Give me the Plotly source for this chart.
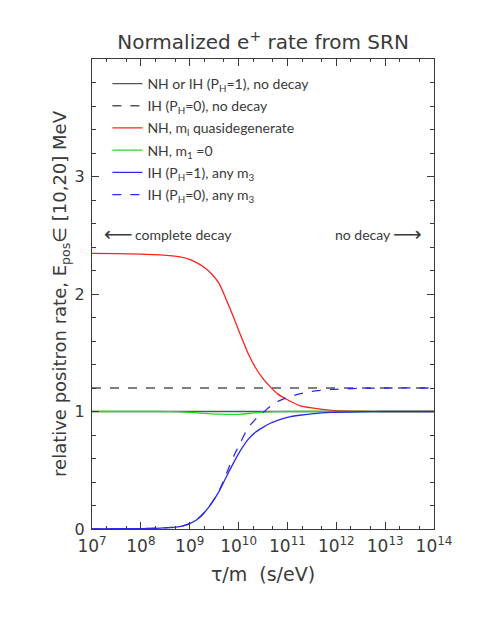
import plotly.graph_objects as go

# tau/m grid (s/eV) as log10 exponents
log_tau = [7.0, 7.5, 8.0, 8.4, 8.8, 9.0, 9.15, 9.3, 9.45, 9.6, 9.75, 9.9, 10.05,
           10.2, 10.35, 10.5, 10.65, 10.8, 11.0, 11.25, 11.5, 11.9, 12.5, 13.0, 14.0]
tau = [10 ** v for v in log_tau]

nh_quasideg = [2.345, 2.343, 2.34, 2.333, 2.316, 2.295, 2.265, 2.225, 2.17, 2.09,
               1.95, 1.80, 1.64, 1.49, 1.37, 1.28, 1.21, 1.15, 1.10, 1.05, 1.03,
               1.01, 1.003, 1.0, 1.0]
nh_m1zero = [1.0, 1.0, 1.0, 1.0, 0.997, 0.993, 0.989, 0.984, 0.98, 0.977, 0.976,
             0.976, 0.978, 0.983, 0.989, 0.994, 0.997, 0.999, 1.0, 1.0, 1.0, 1.0,
             1.0, 1.0, 1.0]
ih_ph1 = [0.0, 0.002, 0.004, 0.008, 0.02, 0.045, 0.08, 0.14, 0.22, 0.32, 0.445,
          0.565, 0.675, 0.765, 0.825, 0.865, 0.90, 0.925, 0.95, 0.968, 0.98, 0.992,
          0.998, 1.0, 1.0]
ih_ph0 = [0.0, 0.002, 0.004, 0.008, 0.02, 0.045, 0.08, 0.14, 0.222, 0.325, 0.47,
          0.62, 0.745, 0.865, 0.935, 0.99, 1.045, 1.085, 1.12, 1.15, 1.17, 1.188,
          1.197, 1.2, 1.2]

tau_const = [1e7, 1e14]
no_decay_ph1 = [1.0, 1.0]
no_decay_ph0 = [1.2, 1.2]

FONT = "DejaVu Sans"
FONT_N = "Lato"
INK = "#3a3a3a"

fig = go.Figure()
fig.add_trace(go.Scatter(x=tau_const, y=no_decay_ph1, mode="lines", legendgroup="a",
                         line=dict(color="#555555", width=1.3),
                         name="NH or IH (P<sub>H</sub>=1), no decay"))
fig.add_trace(go.Scatter(x=tau_const, y=no_decay_ph0, mode="lines", legendgroup="b",
                         line=dict(color="#555555", width=1.3, dash="dash"),
                         name="IH (P<sub>H</sub>=0), no decay"))
fig.add_trace(go.Scatter(x=tau, y=nh_quasideg, mode="lines",
                         line_shape="spline", line_smoothing=0.6,
                         legendgroup="c", line=dict(color="#ff2020", width=1.3),
                         name="NH, m<sub>l</sub> quasidegenerate"))
fig.add_trace(go.Scatter(x=tau, y=nh_m1zero, mode="lines",
                         line_shape="spline", line_smoothing=0.6,
                         legendgroup="d", line=dict(color="#22dd22", width=1.3),
                         name="NH, m<sub>1</sub> =0"))
fig.add_trace(go.Scatter(x=tau, y=ih_ph1, mode="lines",
                         line_shape="spline", line_smoothing=0.6,
                         legendgroup="e", line=dict(color="#2a2aee", width=1.3),
                         name="IH (P<sub>H</sub>=1), any m<sub>3</sub>"))
fig.add_trace(go.Scatter(x=tau, y=ih_ph0, mode="lines",
                         line_shape="spline", line_smoothing=0.6,
                         legendgroup="f", line=dict(color="#2a2aee", width=1.3, dash="dash"),
                         name="IH (P<sub>H</sub>=0), any m<sub>3</sub>"))

note_font = dict(size=14, color=INK, family=FONT_N)
arrow_font = dict(size=20, color=INK, family=FONT)
fig.add_annotation(x=0.03, y=2.51, xref="paper", yref="y", xanchor="left",
                   text="\u27f5", showarrow=False, font=arrow_font)
fig.add_annotation(x=0.12, y=2.51, xref="paper", yref="y", xanchor="left",
                   text="complete decay", showarrow=False, font=note_font)
fig.add_annotation(x=0.88, y=2.51, xref="paper", yref="y", xanchor="right",
                   text="no decay", showarrow=False, font=note_font)
fig.add_annotation(x=0.97, y=2.51, xref="paper", yref="y", xanchor="right",
                   text="\u27f6", showarrow=False, font=arrow_font)

# page body has an 8px margin, so the figure is a bit smaller than the window
fig.update_layout(
    width=485, height=630,
    margin=dict(l=84, r=59, t=51, b=109),
    paper_bgcolor="white", plot_bgcolor="white",
    font=dict(family=FONT, color=INK),
    title=dict(text="Normalized e<sup>+</sup> rate from SRN", x=0.526, xanchor="center",
               y=1 - 34 / 630, yanchor="middle", yref="container",
               font=dict(size=20, family=FONT, color=INK)),
    showlegend=True,
    legend=dict(x=0.045, y=0.981, xanchor="left", yanchor="top",
                bgcolor="rgba(0,0,0,0)", font=dict(size=14, family=FONT_N, color=INK),
                tracegroupgap=1),
)

fig.update_xaxes(type="log", range=[7, 14], automargin=False,
                 tickvals=[10 ** k for k in range(7, 15)],
                 ticktext=[f"10<sup>{k}</sup>" for k in range(7, 15)],
                 ticks="inside", ticklen=7, tickcolor=INK, mirror="ticks",
                 showline=True, linecolor=INK, linewidth=1, showgrid=False,
                 zeroline=False, tickfont=dict(size=17, family=FONT, color=INK),
                 ticklabelstandoff=2,
                 minor=dict(ticks="inside", ticklen=3, tickcolor=INK, showgrid=False),
                 title=dict(text="\u03c4/m  (s/eV)", standoff=12,
                            font=dict(size=19, family=FONT, color=INK)))
fig.update_yaxes(range=[0, 4], tickvals=[0, 1, 2, 3], ticktext=["0", "1", "2", "3"],
                 automargin=False,
                 ticks="inside", ticklen=7, tickcolor=INK, mirror="ticks",
                 showline=True, linecolor=INK, linewidth=1, showgrid=False,
                 zeroline=False, tickfont=dict(size=16, family=FONT, color=INK),
                 ticklabelstandoff=3,
                 minor=dict(dtick=0.2, ticks="inside", ticklen=4, tickcolor=INK,
                            showgrid=False),
                 title=dict(text="relative positron rate, E<sub>pos</sub>\u2208 [10,20] MeV",
                            standoff=3, font=dict(size=18, family=FONT, color=INK)))

fig.write_html("out.html")
